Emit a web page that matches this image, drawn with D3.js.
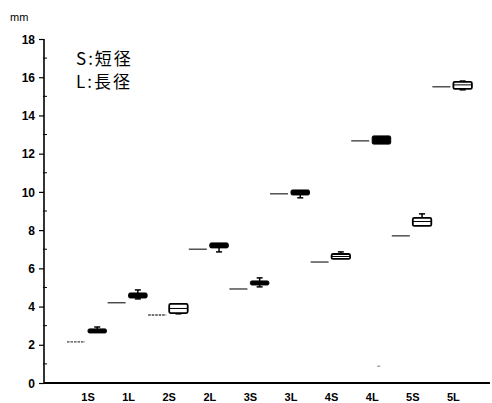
<!DOCTYPE html>
<html><head><meta charset="utf-8">
<script src="https://cdn.jsdelivr.net/npm/d3@7"></script>
<style>body{margin:0;background:#fff}svg{display:block}text{font-family:"Liberation Sans",Arial,sans-serif}</style>
</head><body><svg id="c" width="492" height="403"></svg>
<script>
const categories = ["1S","1L","2S","2L","3S","3L","4S","4L","5S","5L"];
const refValues = [2.15, 4.2, 3.56, 7.0, 4.92, 9.9, 6.33, 12.67, 7.7, 15.5];
const refDashed = [true, false, true, false, false, false, false, false, false, false];
const q1 = [2.62, 4.45, 3.66, 7.07, 5.13, 9.84, 6.49, 12.5, 8.22, 15.39];
const q3 = [2.83, 4.71, 4.14, 7.33, 5.34, 10.1, 6.75, 12.93, 8.64, 15.76];
const medians = [2.75, 4.6, 3.9, 7.2, 5.25, 10.0, 6.62, 12.7, 8.45, 15.6];
const whiskerLow = [2.62, 4.40, 3.62, 6.86, 5.03, 9.69, 6.49, 12.5, 8.22, 15.34];
const whiskerHigh = [2.93, 4.87, 4.14, 7.33, 5.5, 10.1, 6.86, 12.93, 8.85, 15.8];
const filled = [true, true, false, true, true, true, false, true, false, false];
const outliers = [{cat: "4L", v: 0.88}];
const yTicks = [0, 2, 4, 6, 8, 10, 12, 14, 16, 18];
const yMinorTicks = [1, 3, 5, 7, 9, 11, 13, 15, 17];
const legendLines = ["S:短径", "L:長径"];

const svg = d3.select("#c");
const y = d3.scaleLinear().domain([0, 18]).range([383, 39]);
const x = d3.scaleBand().domain(categories).range([67, 473]).padding(0);
const bw = x.bandwidth();

// y axis
const yAxis = d3.axisLeft(y).tickValues(yTicks).tickSize(5).tickPadding(4).tickFormat(d3.format("d"));
const gy = svg.append("g").attr("transform", "translate(44,0)").call(yAxis);
gy.select(".domain").attr("stroke", "#000").attr("stroke-width", 1.6).attr("d", `M0,${y(18)}V${y(0)}`);
gy.selectAll(".tick line").attr("stroke", "#000").attr("stroke-width", 1.2);
gy.selectAll(".tick text").attr("font-size", 12).attr("font-weight", "bold").attr("fill", "#000").attr("dy", "0.35em");
gy.selectAll(".minor").data(yMinorTicks).enter().append("line")
  .attr("x1", -1).attr("x2", 3).attr("y1", d => y(d)).attr("y2", d => y(d))
  .attr("stroke", "#000").attr("stroke-width", 1);

// x axis
const xAxis = d3.axisBottom(x).tickSize(0).tickPadding(10);
const gx = svg.append("g").attr("transform", `translate(0,${y(0)})`).call(xAxis);
gx.select(".domain").attr("stroke", "#000").attr("stroke-width", 2).attr("d", `M44,0H490`);
gx.selectAll(".tick text").attr("font-size", 11).attr("font-weight", "bold").attr("fill", "#000")
  .attr("transform", `translate(${-bw/2 + 21},0)`);

svg.append("text").attr("x", 10).attr("y", 21).attr("font-size", 11).attr("fill", "#000").text("mm");

// legend
svg.selectAll(".leg").data(legendLines).enter().append("text")
  .attr("x", 76).attr("y", (d, i) => 65 + i * 23)
  .attr("font-size", 17).attr("fill", "#000").attr("letter-spacing", 2)
  .style("font-family", "'Noto Sans CJK JP', sans-serif")
  .text(d => d);

const g = svg.append("g");
categories.forEach((c, i) => {
  const x0 = x(c);
  // reference line
  g.append("line").attr("x1", x0).attr("x2", x0 + 18)
    .attr("y1", y(refValues[i])).attr("y2", y(refValues[i]))
    .attr("stroke", "#444").attr("stroke-width", 1.4)
    .attr("stroke-dasharray", refDashed[i] ? "2.5,1" : null);
  const bx = x0 + 21, bwid = 18.5, cx = bx + bwid / 2;
  // whiskers
  [[q3[i], whiskerHigh[i]], [q1[i], whiskerLow[i]]].forEach(([a, b]) => {
    if (Math.abs(a - b) > 0.02) {
      g.append("line").attr("x1", cx).attr("x2", cx).attr("y1", y(a)).attr("y2", y(b))
        .attr("stroke", "#000").attr("stroke-width", 1.5);
      g.append("line").attr("x1", cx - 3).attr("x2", cx + 3).attr("y1", y(b)).attr("y2", y(b))
        .attr("stroke", "#000").attr("stroke-width", 1.5);
    }
  });
  g.append("rect").attr("x", bx).attr("width", bwid)
    .attr("y", y(q3[i])).attr("height", y(q1[i]) - y(q3[i]))
    .attr("fill", filled[i] ? "#000" : "#fff").attr("stroke", "#000")
    .attr("stroke-width", filled[i] ? 1 : 1.8).attr("rx", 1.5);
  if (!filled[i]) {
    g.append("line").attr("x1", bx).attr("x2", bx + bwid).attr("y1", y(medians[i])).attr("y2", y(medians[i]))
      .attr("stroke", "#000").attr("stroke-width", 1);
  }
});
outliers.forEach(o => {
  g.append("line").attr("x1", x(o.cat) + 26).attr("x2", x(o.cat) + 29)
    .attr("y1", y(o.v)).attr("y2", y(o.v)).attr("stroke", "#777").attr("stroke-width", 1);
});
</script></body></html>
